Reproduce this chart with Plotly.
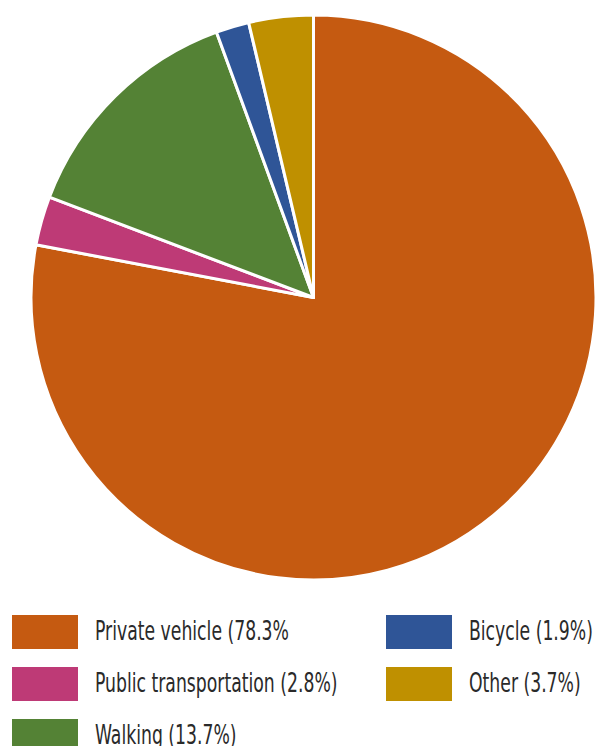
import plotly.graph_objects as go

W, H = 596, 746

categories = ["Private vehicle", "Public transportation", "Walking", "Bicycle", "Other"]
values = [78.3, 2.8, 13.7, 1.9, 3.7]
legend_labels = ["Private vehicle (78.3%", "Public transportation (2.8%)", "Walking (13.7%)",
                 "Bicycle (1.9%)", "Other (3.7%)"]
colors = ["#C55A11", "#BE3A76", "#548235", "#2F5597", "#BF9000"]

cx, cy, r = 313.5, 297.5, 282.5

fig = go.Figure(go.Pie(
    labels=categories, values=values, sort=False, direction="clockwise", rotation=0,
    marker=dict(colors=colors, line=dict(color="white", width=3)),
    textinfo="none", hoverinfo="label+percent", showlegend=False,
    domain=dict(x=[(cx - r) / W, (cx + r) / W], y=[1 - (cy + r) / H, 1 - (cy - r) / H]),
))

# custom legend (two columns)
legend_pos = [(12, 615), (12, 667), (12, 719), (386, 615), (386, 667)]
shapes, annotations = [], []
for (x0, y0), lab, col in zip(legend_pos, legend_labels, colors):
    shapes.append(dict(type="rect", xref="paper", yref="paper",
                       x0=x0 / W, x1=(x0 + 66) / W, y0=1 - y0 / H, y1=1 - (y0 + 34) / H,
                       fillcolor=col, line=dict(width=0)))
    annotations.append(dict(xref="paper", yref="paper", x=(x0 + 81) / W, y=1 - (y0 + 15) / H,
                            xanchor="left", yanchor="middle", showarrow=False, text=lab,
                            font=dict(family="DejaVu Sans Condensed", size=27,
                                      color="#2a2a2a")))

fig.update_layout(width=W, height=H, margin=dict(l=0, r=0, t=0, b=0),
                  paper_bgcolor="white", plot_bgcolor="white",
                  shapes=shapes, annotations=annotations)

# horizontally condense legend text (the original uses a narrow DIN-like face)
post = """
var gd = document.getElementById('{plot_id}');
gd.querySelectorAll('.annotation-text').forEach(function(t){
  var w = t.getComputedTextLength();
  var x = parseFloat(t.getAttribute('x')) || 0;
  var nw = w * 0.71;
  t.style.textAnchor = 'start';
  t.setAttribute('x', x - w / 2);
  t.setAttribute('textLength', nw);
  t.setAttribute('lengthAdjust', 'spacingAndGlyphs');
  var bg = t.parentNode.querySelector('rect.bg');
  if (bg) {
    var bw = parseFloat(bg.getAttribute('width')) || 0;
    bg.setAttribute('width', Math.max(0, bw - (w - nw)));
  }
});
"""
fig.write_html("out.html", post_script=post)
